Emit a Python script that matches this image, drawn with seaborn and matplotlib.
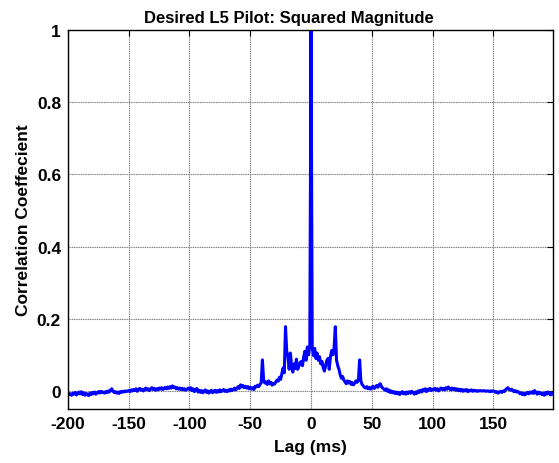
import numpy as np
import pandas as pd
import matplotlib
matplotlib.use("Agg")
import matplotlib.pyplot as plt
import seaborn as sns

left_tail = [
    -0.005, -0.010, -0.008, -0.012, -0.006, -0.009, -0.004, -0.011, -0.007, -0.003,
    -0.008, -0.002, -0.010, -0.005, -0.012, -0.007, -0.009, -0.013, -0.006, -0.010,
    -0.004, -0.008, -0.003, -0.009, -0.005, -0.002, -0.006, -0.001, -0.004, -0.003,
    -0.006, -0.002, -0.005, 0.000, -0.003, 0.002, 0.006, -0.001, -0.004, -0.002,
    -0.006, -0.003, -0.007, -0.002, -0.004, -0.001, -0.003, 0.000, -0.002, 0.000,
    0.001, -0.002, 0.003, 0.000, 0.004, 0.001, 0.006, -0.001, 0.003, 0.007,
    0.002, 0.005, 0.000, 0.004, 0.008, 0.003, 0.006, 0.001, 0.005, 0.009,
    0.004, 0.007, 0.002, 0.006, 0.003, 0.008, 0.005, 0.009, 0.004, 0.007,
    0.010, 0.006, 0.011, 0.007, 0.012, 0.008, 0.014, 0.009, 0.011, 0.006,
    0.009, 0.005, 0.008, 0.004, 0.007, 0.003, 0.006, 0.002, 0.005, 0.008,
    0.004, 0.009, 0.001, 0.006, -0.002, 0.003, 0.007, -0.003, 0.002, -0.004,
    0.001, -0.005, -0.001, 0.003, -0.004, 0.000, -0.006, -0.002, 0.002, -0.005,
    -0.001, 0.002, -0.004, 0.001, -0.003, 0.003, -0.002, 0.000, 0.004, -0.001,
    0.002, -0.002, 0.003, 0.000, 0.005, 0.001, 0.004, 0.008, 0.003, 0.007,
    0.012, 0.007, 0.017, 0.011, 0.015, 0.009, 0.013, 0.008, 0.012, 0.006,
    0.010, 0.005, 0.009, 0.004, 0.013, 0.011, 0.016, 0.012, 0.018, 0.022,
]  # lags -200 .. -41

center = [
    0.086, 0.030, 0.022, 0.025, 0.018, 0.028, 0.020, 0.024, 0.016, 0.021,
    0.019, 0.025, 0.030, 0.027, 0.038, 0.032, 0.048, 0.064, 0.050, 0.178,
    0.110, 0.095, 0.060, 0.105, 0.070, 0.052, 0.075, 0.062, 0.088, 0.060,
    0.068, 0.078, 0.082, 0.070, 0.095, 0.110, 0.085, 0.122, 0.100, 0.125,
    1.000,
    0.122, 0.098, 0.118, 0.090, 0.105, 0.085, 0.095, 0.075, 0.082, 0.065,
    0.055, 0.070, 0.085, 0.090, 0.060, 0.095, 0.112, 0.100, 0.120, 0.178,
    0.085, 0.070, 0.060, 0.045, 0.035, 0.040, 0.030, 0.025, 0.020, 0.028,
    0.022, 0.026, 0.018, 0.023, 0.017, 0.022, 0.028, 0.024, 0.030, 0.086,
]  # lags -40 .. 40

right_tail = [
    0.028, 0.018, 0.014, 0.010, 0.008, 0.012, 0.006, 0.010, 0.005, 0.009,
    0.013, 0.007, 0.011, 0.015, 0.010, 0.017, 0.020, 0.012, 0.008, 0.005,
    0.002, 0.006, -0.001, 0.003, -0.004, 0.000, -0.005, -0.002, -0.007, -0.003,
    -0.008, -0.004, -0.010, -0.005, -0.002, -0.008, -0.004, -0.009, -0.003, -0.007,
    -0.002, -0.006, -0.001, -0.005, -0.009, -0.003, -0.007, 0.000, -0.004, 0.002,
    -0.003, 0.004, 0.000, 0.006, -0.002, 0.005, 0.002, 0.007, 0.001, 0.005,
    0.003, 0.007, 0.002, 0.006, 0.000, 0.005, 0.008, 0.004, 0.007, 0.003,
    0.009, 0.005, 0.011, 0.006, 0.003, 0.008, 0.004, 0.007, 0.002, 0.006,
    0.001, 0.005, 0.000, 0.004, -0.001, 0.003, 0.000, 0.004, -0.002, 0.002,
    0.000, 0.003, -0.001, 0.002, 0.000, 0.001, -0.001, 0.000, 0.001, 0.000,
    0.000, 0.001, 0.000, -0.001, 0.000, 0.000, -0.002, 0.000, -0.001, 0.000,
    -0.001, -0.004, -0.002, -0.006, -0.003, -0.001, -0.004, 0.000, -0.002, 0.003,
    0.006, 0.009, 0.004, 0.002, 0.005, 0.001, -0.002, 0.001, -0.003, -0.001,
    -0.004, -0.008, -0.005, -0.010, -0.006, -0.011, -0.007, -0.004, -0.008, -0.003,
    -0.006, -0.002, -0.007, 0.001, -0.004, -0.009, -0.003, -0.008, -0.005, -0.010,
    -0.006, -0.012, -0.004, -0.009, -0.003, -0.007, -0.011, -0.005, -0.009,
]  # lags 41 .. 199

corr = left_tail + center + right_tail
lags = list(range(-200, -200 + len(corr)))

x_ticks = [-200, -150, -100, -50, 0, 50, 100, 150]
y_ticks = [0, 0.2, 0.4, 0.6, 0.8, 1]
y_tick_labels = ["0", "0.2", "0.4", "0.6", "0.8", "1"]

df = pd.DataFrame({"Lag": lags, "Corr": corr})

sns.set_theme(style="white")
plt.rcParams["font.family"] = ["Liberation Sans", "DejaVu Sans"]
plt.rcParams["font.weight"] = "bold"
plt.rcParams["text.color"] = "black"
plt.rcParams["axes.labelcolor"] = "black"

fig = plt.figure(figsize=(5.59, 4.64), dpi=100)
ax = fig.add_axes([0.1216, 0.1164, 0.8674, 0.8168])

sns.lineplot(data=df, x="Lag", y="Corr", color="#0000ff", linewidth=2.2, ax=ax)

ax.set_xlim(-200, 199)
ax.set_ylim(-0.05, 1.0)
ax.set_xticks(x_ticks)
ax.set_xticklabels([str(t) for t in x_ticks])
ax.set_yticks(y_ticks)
ax.set_yticklabels(y_tick_labels)
ax.grid(True, color="#808080", linestyle=(0, (1, 0.6)), linewidth=0.8)
ax.set_axisbelow(True)
for s in ax.spines.values():
    s.set_visible(True)
    s.set_color("black")
    s.set_linewidth(1.0)
ax.tick_params(direction="in", length=4, width=0.8, top=True, right=True,
               labelsize=12.5, colors="black", labelcolor="black", pad=5)
for lab in ax.get_xticklabels() + ax.get_yticklabels():
    lab.set_fontweight("bold")
    lab.set_color("black")

ax.set_xlabel("Lag (ms)", fontsize=12.5, fontweight="bold", labelpad=6, color="black")
ax.set_ylabel("Correlation Coeffecient", fontsize=12.5, fontweight="bold", labelpad=4, color="black")
ax.set_title("Desired L5 Pilot: Squared Magnitude", fontsize=12, fontweight="bold",
             pad=6, color="black", x=0.456)

fig.savefig("out.png", dpi=100)
